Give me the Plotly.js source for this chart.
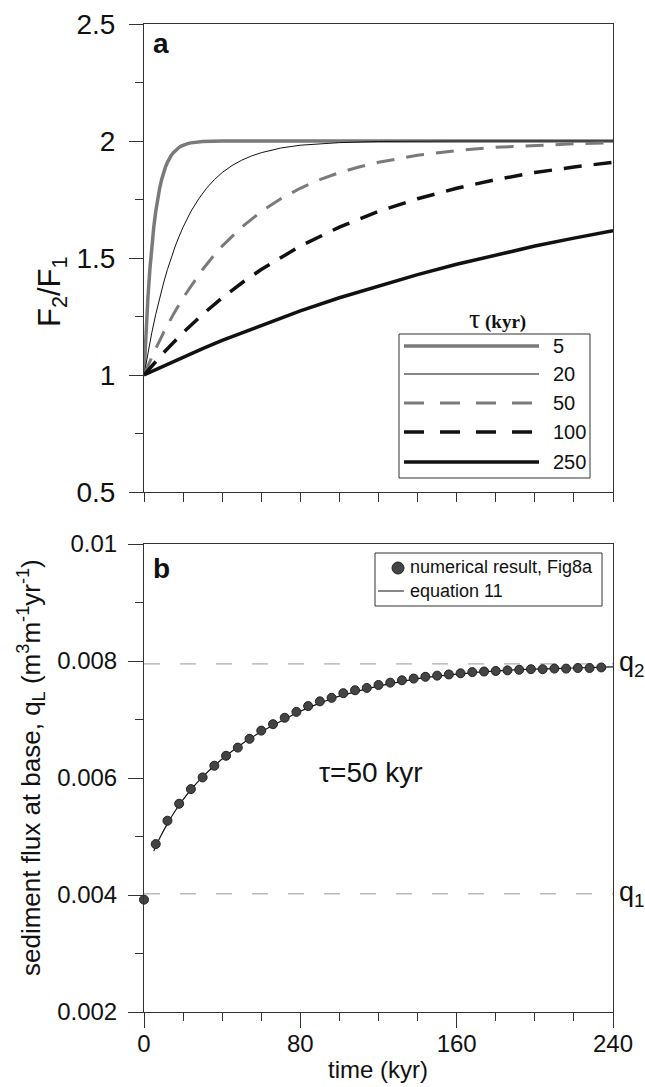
<!DOCTYPE html>
<html>
<head>
<meta charset="utf-8">
<script src="https://cdn.plot.ly/plotly-3.0.1.min.js"></script>
<style>html,body{margin:0;padding:0;background:#fff;}#chart{width:645px;height:1087px;}</style>
</head>
<body>
<div id="chart"></div>
<script>
// ---------- Panel a data: F2/F1 vs time (kyr) ----------
const t5   = [0,1,2,3,4,5,6,7,8,9,10,11,12,13,14,15,16,17,18,19,20,22,24,26,28,30,35,40,240];
const f5   = [1,1.181,1.330,1.451,1.551,1.632,1.699,1.753,1.798,1.835,1.865,1.889,1.909,1.926,1.939,1.950,1.959,1.967,1.973,1.978,1.982,1.988,1.992,1.994,1.996,1.998,1.999,2.0,2.0];
const t20  = [0,2,4,6,8,10,12,14,16,18,20,24,28,32,36,40,45,50,55,60,70,80,90,100,120,140,160,240];
const f20  = [1,1.095,1.181,1.259,1.330,1.393,1.451,1.503,1.551,1.593,1.632,1.699,1.753,1.798,1.835,1.865,1.895,1.918,1.936,1.950,1.970,1.982,1.989,1.993,1.998,1.999,2.0,2.0];
const t50  = [0,5,10,15,20,25,30,35,40,50,60,70,80,90,100,110,120,140,160,180,200,220,240];
const f50  = [1,1.095,1.181,1.259,1.330,1.393,1.451,1.503,1.551,1.632,1.699,1.753,1.798,1.835,1.865,1.889,1.909,1.939,1.959,1.973,1.982,1.988,1.992];
const t100 = [0,10,20,30,40,50,60,70,80,100,120,140,160,180,200,220,240];
const f100 = [1,1.095,1.181,1.259,1.330,1.393,1.451,1.503,1.551,1.632,1.699,1.753,1.798,1.835,1.865,1.889,1.909];
const t250 = [0,10,20,30,40,60,80,100,120,140,160,180,200,220,240];
const f250 = [1,1.039,1.077,1.113,1.148,1.213,1.274,1.330,1.381,1.429,1.473,1.513,1.551,1.585,1.617];
const tauLabels = ["5","20","50","100","250"];

// ---------- Panel b data: sediment flux at base ----------
const tNum = [0,6,12,18,24,30,36,42,48,54,60,66,72,78,84,90,96,102,108,114,120,126,132,138,144,150,156,162,168,174,180,186,192,198,204,210,216,222,228,234];
const qNum = [0.00392,0.00487,0.00527,0.00556,0.00581,0.00601,0.00621,0.00638,0.00652,0.00667,0.00681,0.00692,0.00703,0.00713,0.00723,0.00731,0.00737,0.00745,0.00750,0.00754,0.00759,0.00763,0.00767,0.00770,0.00773,0.00775,0.00777,0.00779,0.00781,0.00782,0.00783,0.00784,0.00785,0.00786,0.00786,0.00787,0.00787,0.00788,0.00788,0.00789];
const tEq = [5,8,12,16,20,25,30,36,42,48,54,60,70,80,90,100,110,120,135,150,165,180,200,220,240];
const qEq = [0.00475,0.00497,0.00522,0.00544,0.00563,0.00584,0.00602,0.00621,0.00638,0.00653,0.00667,0.00679,0.00697,0.00714,0.00728,0.00740,0.00749,0.00757,0.00767,0.00774,0.00779,0.00783,0.00786,0.00788,0.00790];
const Q1 = 0.00402, Q2 = 0.00795;
const xTickVals = [0,80,160,240];

// ---------- layout helpers (pixel -> paper) ----------
const ML=144, MR=32, MT=24, MB=75, W=645, H=1087;
const PW=W-ML-MR, PH=H-MT-MB;
const px = x => (x-ML)/PW;
const py = y => (H-MB-y)/PH;
const FONT = "Liberation Sans, Arial, sans-serif";
const SERIF = "Liberation Serif, Times New Roman, serif";
const GRAY = "#7a7a7a";
const DASH_A = "18px,12px";

const traces = [
  {x:t5,y:f5,mode:'lines',line:{color:GRAY,width:3.5},xaxis:'x',yaxis:'y'},
  {x:t20,y:f20,mode:'lines',line:{color:'#111',width:1},xaxis:'x',yaxis:'y'},
  {x:t50,y:f50,mode:'lines',line:{color:GRAY,width:3,dash:DASH_A},xaxis:'x',yaxis:'y'},
  {x:t100,y:f100,mode:'lines',line:{color:'#111',width:3.5,dash:DASH_A},xaxis:'x',yaxis:'y'},
  {x:t250,y:f250,mode:'lines',line:{color:'#111',width:3.5},xaxis:'x',yaxis:'y'},
  {x:[0,240],y:[Q2,Q2],mode:'lines',line:{color:'#999',width:1,dash:'16px,20px'},xaxis:'x2',yaxis:'y2'},
  {x:[0,240],y:[Q1,Q1],mode:'lines',line:{color:'#999',width:1,dash:'16px,20px'},xaxis:'x2',yaxis:'y2'},
  {x:tEq,y:qEq,mode:'lines',line:{color:'#111',width:1.2,shape:'spline',smoothing:0.8},xaxis:'x2',yaxis:'y2'},
  {x:tNum,y:qNum,mode:'markers',marker:{color:'#444',size:9,line:{color:'#222',width:1}},cliponaxis:false,xaxis:'x2',yaxis:'y2'}
];

const axisBase = {showline:true,mirror:true,linecolor:'#333',linewidth:1,showgrid:false,zeroline:false,
  ticks:'outside',tickcolor:'#333',tickwidth:1,tickfont:{family:FONT,size:23,color:'#111'}};

const shapes = [];
const annotations = [];

// Panel a legend
shapes.push({type:'rect',xref:'paper',yref:'paper',x0:px(399),x1:px(590),y0:py(478),y1:py(334),line:{color:'#333',width:1},fillcolor:'#fff'});
const legYs=[346,374,403,432,462];
const legStyles=[{color:GRAY,width:3.5},{color:'#111',width:1},{color:GRAY,width:3,dash:'20px,16px'},{color:'#111',width:3.5,dash:'20px,16px'},{color:'#111',width:3.5}];
legYs.forEach((yy,i)=>{
  shapes.push({type:'line',xref:'paper',yref:'paper',x0:px(404),x1:px(539),y0:py(yy),y1:py(yy),line:legStyles[i]});
  annotations.push({xref:'paper',yref:'paper',x:px(551),y:py(yy),xanchor:'left',yanchor:'middle',showarrow:false,text:tauLabels[i],font:{family:FONT,size:20,color:'#111'}});
});
annotations.push({xref:'paper',yref:'paper',x:px(497),y:py(318),xanchor:'center',yanchor:'middle',showarrow:false,
  text:'<span style="font-size:28px">τ</span> <b>(kyr)</b>',font:{family:SERIF,size:19,color:'#111'}});

// Panel b legend
shapes.push({type:'rect',xref:'paper',yref:'paper',x0:px(375),x1:px(602),y0:py(606),y1:py(553),line:{color:'#333',width:1},fillcolor:'rgba(0,0,0,0)'});
shapes.push({type:'circle',xref:'paper',yref:'paper',x0:px(392),x1:px(404),y0:py(574),y1:py(562),fillcolor:'#444',line:{color:'#222',width:1}});
shapes.push({type:'line',xref:'paper',yref:'paper',x0:px(378),x1:px(404),y0:py(591),y1:py(591),line:{color:'#111',width:1}});
annotations.push({xref:'paper',yref:'paper',x:px(408),y:py(567),xanchor:'left',yanchor:'middle',showarrow:false,text:'numerical result, Fig8a',font:{family:FONT,size:18,color:'#111'}});
annotations.push({xref:'paper',yref:'paper',x:px(408),y:py(591),xanchor:'left',yanchor:'middle',showarrow:false,text:'equation 11',font:{family:FONT,size:18,color:'#111'}});

// panel letters
annotations.push({xref:'paper',yref:'paper',x:px(151),y:py(43),xanchor:'left',yanchor:'middle',showarrow:false,text:'<b>a</b>',font:{family:FONT,size:28,color:'#111'}});
annotations.push({xref:'paper',yref:'paper',x:px(151),y:py(568),xanchor:'left',yanchor:'middle',showarrow:false,text:'<b>b</b>',font:{family:FONT,size:28,color:'#111'}});

// tau = 50 text, q labels
annotations.push({xref:'x2',yref:'y2',x:116,y:0.0061,xanchor:'center',yanchor:'middle',showarrow:false,text:'τ=50 kyr',font:{family:FONT,size:28,color:'#111'}});
annotations.push({xref:'paper',yref:'y2',x:px(617),y:Q2,xanchor:'left',yanchor:'middle',showarrow:false,text:'q<sub>2</sub>',font:{family:FONT,size:27,color:'#111'}});
annotations.push({xref:'paper',yref:'y2',x:px(617),y:Q1,xanchor:'left',yanchor:'middle',showarrow:false,text:'q<sub>1</sub>',font:{family:FONT,size:27,color:'#111'}});

// axis titles
annotations.push({xref:'paper',yref:'paper',x:px(52),y:py(292),xanchor:'center',yanchor:'middle',textangle:-90,showarrow:false,text:'F<sub>2</sub>/F<sub>1</sub>',font:{family:FONT,size:31,color:'#111'}});
annotations.push({xref:'paper',yref:'paper',x:px(31),y:py(768),xanchor:'center',yanchor:'middle',textangle:-90,showarrow:false,
  text:'sediment flux at base, q<sub>L</sub> (m<sup>3</sup>m<sup>-1</sup>yr<sup>-1</sup>)',font:{family:FONT,size:26,color:'#111'}});
annotations.push({xref:'paper',yref:'paper',x:px(378),y:py(1069),xanchor:'center',yanchor:'middle',showarrow:false,text:'time (kyr)',font:{family:FONT,size:24,color:'#111'}});

const layout = {
  width:W,height:H,margin:{l:ML,r:MR,t:MT,b:MB},paper_bgcolor:'#fff',plot_bgcolor:'#fff',showlegend:false,
  xaxis: Object.assign({},axisBase,{domain:[0,1],anchor:'y',range:[0,240],tickvals:[0,20,40,60,80,100,120,140,160,180,200,220,240],ticklen:9,showticklabels:false}),
  yaxis: Object.assign({},axisBase,{domain:[1-468/PH,1],anchor:'x',range:[0.5,2.5],dtick:0.5,ticklen:14,ticklabelstandoff:8,
    tickfont:{family:FONT,size:28,color:'#111'},minor:{ticks:'outside',dtick:0.25,ticklen:8,tickcolor:'#333'}}),
  xaxis2: Object.assign({},axisBase,{domain:[0,1],anchor:'y2',range:[0,240],tickvals:xTickVals,ticktext:xTickVals.map(String),ticklen:15,ticklabelstandoff:-5,
    tickfont:{family:FONT,size:24,color:'#111'},
    minor:{ticks:'outside',dtick:20,ticklen:8,tickcolor:'#333'}}),
  yaxis2: Object.assign({},axisBase,{domain:[0,468/PH],anchor:'x2',range:[0.002,0.01],dtick:0.002,ticklen:15,ticklabelstandoff:6,
    tickfont:{family:FONT,size:24,color:'#111'},
    minor:{ticks:'outside',dtick:0.001,ticklen:8,tickcolor:'#333'}}),
  shapes:shapes,annotations:annotations
};
Plotly.newPlot('chart',traces,layout,{displayModeBar:false,staticPlot:true});
</script>
</body>
</html>
